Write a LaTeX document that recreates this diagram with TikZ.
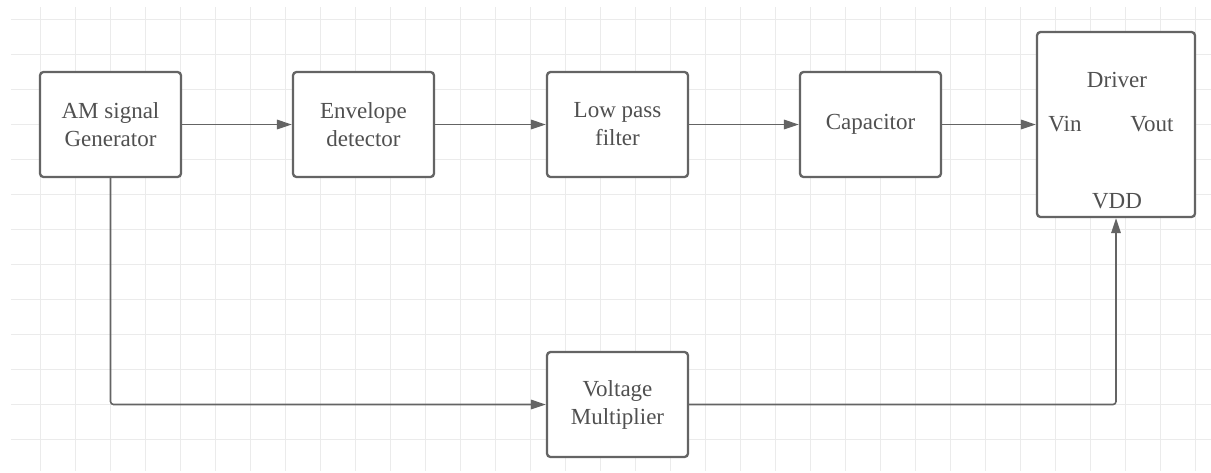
\documentclass[tikz,border=0pt]{standalone}
\usepackage{fontspec}
\setmainfont{Liberation Serif}
\usetikzlibrary{arrows.meta}
\definecolor{gridc}{HTML}{EBEBEB}
\definecolor{linec}{HTML}{646464}
\definecolor{textc}{HTML}{505050}
\begin{document}
\begin{tikzpicture}[x=1pt,y=-1pt,
  gridline/.style={draw=gridc,line width=1pt},
  block/.style={draw=linec,line width=2.3pt,rounded corners=3.5pt,fill=white,
    minimum width=141pt,minimum height=105pt,inner sep=0pt,align=center,
    text=textc,font=\fontsize{23}{28}\selectfont},
  conn/.style={draw=linec,line width=1.6pt,rounded corners=3pt,
    -{Triangle[length=15pt,width=9.5pt]}},
  plain/.style={draw=linec,line width=1.6pt,rounded corners=3pt},
  lbl/.style={text=textc,font=\fontsize{23}{28}\selectfont,inner sep=0pt}]
\useasboundingbox (0,0) rectangle (1211,472);
\fill[white] (0,0) rectangle (1211,472);
% grid
\foreach \gx in {0,...,33} {\draw[gridline] ({40.7+35*\gx},7) -- ({40.7+35*\gx},471);}
\foreach \gy in {0,...,12} {\draw[gridline] (11,{19+35*\gy}) -- (1211,{19+35*\gy});}
% blocks
\node[block] (am) at (110.5,124.5) {AM signal\\Generator};
\node[block] (env) at (363.5,124.5) {Envelope\\detector};
\node[block] (lpf) at (617.5,124.5) {Low pass\\filter};
\node[block] (cap) at (870.5,124.5) {Capacitor};
\node[block,minimum width=158pt,minimum height=185pt] (drv) at (1116,124.5) {};
\node[block] (vm) at (617.5,404.5) {Voltage\\Multiplier};
% driver labels
\node[lbl] (drvname) at (1117,80) {Driver};
\node[lbl] (vin) at (1065,124) {Vin};
\node[lbl] (vout) at (1152,124) {Vout};
\node[lbl] (vdd) at (1117,201) {VDD};
% connectors
\draw[conn] (am.east) -- (env.west);
\draw[conn] (env.east) -- (lpf.west);
\draw[conn] (lpf.east) -- (cap.west);
\draw[conn] (cap.east) -- (drv.west);
\draw[conn] (am.south) |- (vm.west);
\draw[conn] (vm.east) -| (drv.south);
\end{tikzpicture}
\end{document}
